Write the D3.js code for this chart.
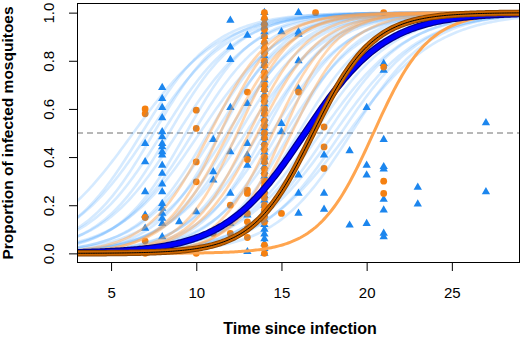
<!DOCTYPE html>
<html lang="en">
  <head>
    <meta charset="UTF-8" />
    <title>Infection curves</title>
    <script src="https://d3js.org/d3.v7.min.js"></script>
    <style>
      body {
        margin: 0;
        background: #fff;
        font-family: "Liberation Sans", Arial, sans-serif;
      }
    </style>
  </head>
  <body>
    <svg id="chart" width="523" height="338"></svg>

    <script>
      // blue triangles: observed proportions by day
      const blueDays = [7, 8, 9, 10, 11, 12, 13, 15, 16, 17.5, 19, 20, 21, 23, 27];
      const blueProps = [
        [0.456, 0.38, 0.256, 0.159, 0.104],
        [0.689, 0.643, 0.606, 0.563, 0.505, 0.484, 0.456, 0.442, 0.422, 0.408, 0.366, 0.332, 0.288, 0.256, 0.207, 0.187, 0.166, 0.145, 0.124, 0.069],
        [0.131],
        [0.173],
        [0.473, 0.339, 0.304],
        [0.968, 0.857, 0.805, 0.606, 0.422, 0.249, 0.124],
        [0.906, 0.622, 0.456, 0.408, 0.366, 0.159, 0.007],
        [0.92, 0.539, 0.505],
        [1.0, 0.92, 0.91, 0.8, 0.685, 0.325, 0.249, 0.166],
        [0.408, 0.249, 0.183],
        [0.426, 0.117],
        [0.606, 0.366, 0.325, 0.124],
        [0.788, 0.76, 0.473, 0.36, 0.35, 0.224, 0.18, 0.083, 0.069],
        [0.274, 0.205],
        [0.542, 0.256],
      ];
      // orange circles
      const orangeDays = [7, 10, 11, 12, 13, 15, 16, 17, 17.5, 21];
      const orangeProps = [
        [0.6, 0.58, 0.149, 0.051, 0.0],
        [0.595, 0.519, 0.38, 0.297, 0.0],
        [0.083],
        [0.2, 0.083],
        [0.67, 0.39, 0.263, 0.249, 0.166, 0.131, 0.104, 0.066],
        [0.166],
        [0.67],
        [1.0],
        [0.525, 0.442, 0.353],
        [1.0, 0.774, 0.3, 0.249],
      ];
      // day 14: a dense column of both kinds
      const columnDay = 14;
      const columnBlue = [1.0, 0.98, 0.96, 0.94, 0.92, 0.9, 0.88, 0.86, 0.84, 0.82, 0.8, 0.78, 0.76, 0.74, 0.72, 0.7, 0.68, 0.66, 0.64, 0.62, 0.6, 0.58, 0.56, 0.54, 0.52, 0.5, 0.48, 0.46, 0.44, 0.42, 0.4, 0.38, 0.36, 0.34, 0.32, 0.3, 0.28, 0.26, 0.24, 0.22, 0.2, 0.18, 0.16, 0.14, 0.12, 0.1, 0.08, 0.06, 0.04, 0.02, 0.0];
      const columnOrange = [1.0, 0.975, 0.95, 0.93, 0.9, 0.875, 0.85, 0.83, 0.8, 0.78, 0.75, 0.73, 0.7, 0.68, 0.65, 0.63, 0.6, 0.58, 0.55, 0.53, 0.5, 0.48, 0.45, 0.43, 0.4, 0.38, 0.35, 0.33, 0.3, 0.28, 0.25, 0.23, 0.2, 0.18, 0.15, 0.13, 0.034, 0.0];

      // fitted logistic curves: midpoint (day at 50%) and slope
      const blueFitMid = [6.3, 6.8, 7.2, 7.5, 8.0, 8.4, 8.9, 9.4, 9.8, 10.2, 10.7, 11.1, 11.4, 11.8, 12.1, 12.5, 12.9, 13.3, 13.7, 14.0, 14.4, 14.8, 15.2, 15.5, 16.0, 16.4, 16.9, 17.3, 17.7, 18.1, 18.5, 18.9, 19.1];
      const blueFitSlope = [0.39, 0.46, 0.42, 0.48, 0.45, 0.48, 0.44, 0.5, 0.46, 0.42, 0.48, 0.45, 0.52, 0.44, 0.5, 0.47, 0.43, 0.5, 0.46, 0.52, 0.45, 0.49, 0.44, 0.5, 0.47, 0.45, 0.42, 0.4, 0.43, 0.4, 0.42, 0.38, 0.44];
      const orangeFitMid = [10.8, 11.4, 11.9, 12.4, 13.1, 13.6, 14.5, 15.1, 15.6];
      const orangeFitSlope = [0.55, 0.6, 0.55, 0.62, 0.58, 0.55, 0.6, 0.65, 0.58];
      const meanBlue = { mid: 16.38, slope: 0.42 };
      const meanOrange = { mid: 16.85, slope: 0.57 };
      const lateOrange = { mid: 20.4, slope: 0.62 };

      const xTicks = [5, 10, 15, 20, 25];
      const yTicks = [0, 0.2, 0.4, 0.6, 0.8, 1.0];

      const svg = d3.select("#chart");
      const margin = { top: 3, right: 3, bottom: 75, left: 77 };
      const W = +svg.attr("width"),
        H = +svg.attr("height");

      const x = d3.scaleLinear().domain([3, 29]).range([margin.left, W - margin.right]);
      const y = d3.scaleLinear().domain([-0.04, 1.04]).range([H - margin.bottom, margin.top]);

      svg.append("clipPath").attr("id", "clip").append("rect")
        .attr("x", margin.left).attr("y", margin.top)
        .attr("width", W - margin.left - margin.right)
        .attr("height", H - margin.top - margin.bottom);

      const plot = svg.append("g").attr("clip-path", "url(#clip)");

      plot.append("line")
        .attr("x1", margin.left).attr("x2", W - margin.right)
        .attr("y1", y(0.5)).attr("y2", y(0.5))
        .attr("stroke", "#707070").attr("stroke-dasharray", "6,4");

      const triangle = d3.symbol().type(d3.symbolTriangle).size(30);

      function drawTriangles(day, props) {
        plot.selectAll(null).data(props).enter().append("path")
          .attr("d", triangle)
          .attr("transform", (p) => `translate(${x(day)},${y(p)})`)
          .attr("fill", "#1c86ee");
      }
      function drawCircles(day, props) {
        plot.selectAll(null).data(props).enter().append("circle")
          .attr("cx", x(day)).attr("cy", (p) => y(p)).attr("r", 3.4)
          .attr("fill", "#f58010");
      }

      blueDays.forEach((d, i) => drawTriangles(d, blueProps[i]));
      drawTriangles(columnDay, columnBlue);
      orangeDays.forEach((d, i) => drawCircles(d, orangeProps[i]));
      drawCircles(columnDay, columnOrange);

      const days = d3.range(3, 29.05, 0.1);
      const logistic = (mid, slope) => (t) => 1 / (1 + Math.exp(-slope * (t - mid)));
      const line = d3.line().x((t) => x(t[0])).y((t) => y(t[1]));
      function curve(mid, slope) {
        const f = logistic(mid, slope);
        return line(days.map((t) => [t, f(t)]));
      }

      blueFitMid.forEach((m, i) => {
        plot.append("path").attr("d", curve(m, blueFitSlope[i]))
          .attr("fill", "none").attr("stroke", "#1e90ff")
          .attr("stroke-opacity", 0.19).attr("stroke-width", 2.6);
      });
      orangeFitMid.forEach((m, i) => {
        plot.append("path").attr("d", curve(m, orangeFitSlope[i]))
          .attr("fill", "none").attr("stroke", "#ffa54f")
          .attr("stroke-opacity", 0.45).attr("stroke-width", 2.6);
      });

      plot.append("path").attr("d", curve(lateOrange.mid, lateOrange.slope))
        .attr("fill", "none").attr("stroke", "#ffa54f").attr("stroke-width", 3);

      plot.append("path").attr("d", curve(meanBlue.mid, meanBlue.slope))
        .attr("fill", "none").attr("stroke", "#00008b").attr("stroke-width", 7);
      plot.append("path").attr("d", curve(meanBlue.mid, meanBlue.slope))
        .attr("fill", "none").attr("stroke", "#0000ff").attr("stroke-width", 4.5);

      plot.append("path").attr("d", curve(meanOrange.mid, meanOrange.slope))
        .attr("fill", "none").attr("stroke", "#8b4500").attr("stroke-width", 6.5);
      plot.append("path").attr("d", curve(meanOrange.mid, meanOrange.slope))
        .attr("fill", "none").attr("stroke", "#cd6600").attr("stroke-width", 4.5);
      plot.append("path").attr("d", curve(meanOrange.mid, meanOrange.slope))
        .attr("fill", "none").attr("stroke", "#000").attr("stroke-width", 1);

      // box and axes
      svg.append("rect")
        .attr("x", margin.left + 0.5).attr("y", margin.top + 0.5)
        .attr("width", W - margin.left - margin.right - 1)
        .attr("height", H - margin.top - margin.bottom - 1)
        .attr("fill", "none").attr("stroke", "#000");

      const xAxis = svg.append("g")
        .attr("transform", `translate(0,${H - margin.bottom})`)
        .call(d3.axisBottom(x).tickValues(xTicks).tickSize(8).tickPadding(16));
      xAxis.select(".domain").remove();
      xAxis.selectAll("text").attr("font-size", 15).attr("font-family", "Liberation Sans, Arial, sans-serif");

      const yAxis = svg.append("g")
        .attr("transform", `translate(${margin.left},0)`)
        .call(d3.axisLeft(y).tickValues(yTicks).tickFormat(d3.format(".1f")).tickSize(8));
      yAxis.select(".domain").remove();
      yAxis.selectAll("text")
        .attr("x", null).attr("dy", null)
        .attr("text-anchor", "middle")
        .attr("transform", "translate(-23.5,0) rotate(-90)")
        .attr("font-size", 15).attr("font-family", "Liberation Sans, Arial, sans-serif");

      svg.append("text")
        .attr("x", 300).attr("y", 334)
        .attr("text-anchor", "middle")
        .attr("font-size", 16).attr("font-weight", "bold")
        .text("Time since infection");

      svg.append("text")
        .attr("transform", `translate(13,${(margin.top + H - margin.bottom) / 2}) rotate(-90)`)
        .attr("text-anchor", "middle")
        .attr("font-size", 15.5).attr("font-weight", "bold")
        .text("Proportion of infected mosquitoes");
    </script>
  </body>
</html>
